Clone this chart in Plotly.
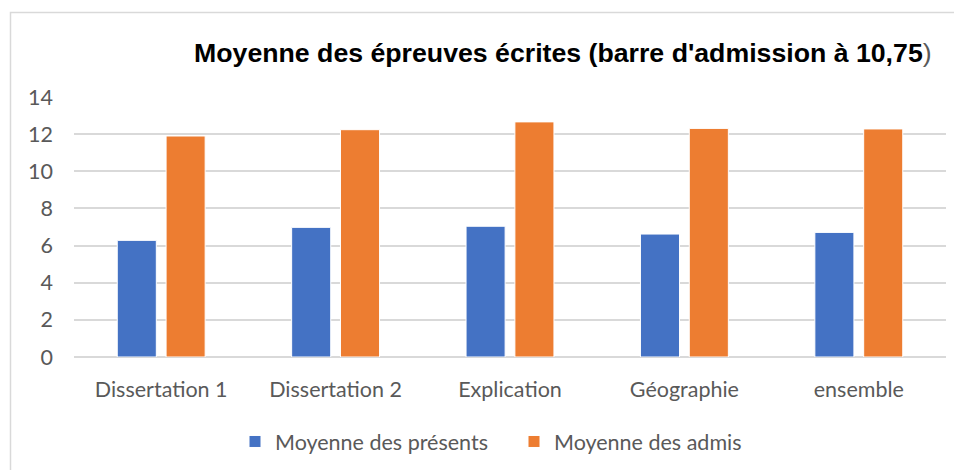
import plotly.graph_objects as go

# Categories and the two averages per written test
epreuves = ["Dissertation 1", "Dissertation 2", "Explication", "Géographie", "ensemble"]
moyenne_presents = [6.28, 6.98, 7.04, 6.62, 6.71]
moyenne_admis = [11.90, 12.24, 12.66, 12.31, 12.28]
y_ticks = [0, 2, 4, 6, 8, 10, 12, 14]

# the page body adds an 8px margin, so work in screen pixels and subtract it
OFF = 8
W, H = 962, 470
ML, MR, MT, MB = 74 - OFF, 24, 97 - OFF, 121
PW, PH = W - ML - MR, H - MT - MB

def px_x(x):
    return (x - OFF - ML) / PW

def px_y(y):
    return (H - MB - (y - OFF)) / PH

fig = go.Figure()
fig.add_bar(x=epreuves, y=moyenne_presents, name="Moyenne des présents",
            marker=dict(color="#4472C4", line=dict(color="white", width=1)))
fig.add_bar(x=epreuves, y=moyenne_admis, name="Moyenne des admis",
            marker=dict(color="#ED7D31", line=dict(color="white", width=1)))

tick_font = dict(family="Lato, Open Sans, sans-serif", size=21.5, color="#595959")

fig.update_layout(
    width=W, height=H,
    margin=dict(l=ML, r=MR, t=MT, b=MB, autoexpand=False),
    paper_bgcolor="white", plot_bgcolor="white",
    barmode="group", bargap=0.44, bargroupgap=0.2,
    showlegend=True,
    legend=dict(orientation="h", x=px_x(235), xanchor="left",
                y=px_y(421), yanchor="top", font=tick_font,
                itemwidth=30, entrywidth=234, traceorder="normal"),
    xaxis=dict(showgrid=False, showline=False, ticks="", tickfont=tick_font,
               ticklabelstandoff=17, automargin=False),
    yaxis=dict(range=[0, 14], tickvals=y_ticks, showgrid=True,
               gridcolor="#d9d9d9", gridwidth=1.5, zeroline=True,
               zerolinecolor="#d9d9d9", zerolinewidth=1.5, showline=False,
               ticks="", tickfont=tick_font, ticklabelstandoff=20,
               automargin=False),
)

# title (bold, with the closing parenthesis in plain grey)
fig.add_annotation(
    x=px_x(192), y=px_y(53), xref="paper", yref="paper",
    xanchor="left", yanchor="middle", showarrow=False,
    text="<b>Moyenne des épreuves écrites (barre d'admission à 10,75</b>"
         "<span style='color:#595959'>)</span>",
    font=dict(family="Liberation Sans, Arial, sans-serif", size=26.7, color="black"),
)

# chart frame
fig.add_shape(type="rect", xref="paper", yref="paper",
              x0=px_x(10.5), x1=px_x(990), y0=px_y(495), y1=px_y(12.5),
              line=dict(color="#d9d9d9", width=1.5), fillcolor="rgba(0,0,0,0)",
              layer="below")

fig.write_html("out.html")
